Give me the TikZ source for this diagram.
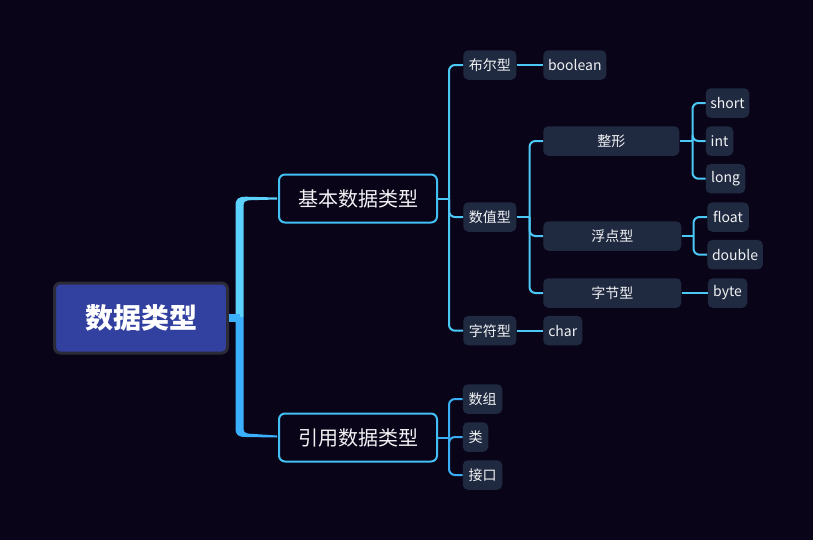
\documentclass[tikz,border=0pt]{standalone}
\usepackage{fontspec}
\setmainfont{Noto Sans CJK SC}
\definecolor{bg}{HTML}{0A0418}
\definecolor{rootfill}{HTML}{3240A0}
\definecolor{rootborder}{HTML}{2C2B38}
\definecolor{mainborder}{HTML}{42C0F4}
\definecolor{subfill}{HTML}{1F2A40}
\definecolor{ca}{HTML}{4CC8F6}
\definecolor{cb}{HTML}{3AAEF4}
\definecolor{trunkA}{HTML}{5CD2FF}
\definecolor{trunkB}{HTML}{3AB0FF}
\definecolor{txt}{HTML}{F2F2F5}
\def\u{0.75pt}
\begin{document}
\begin{tikzpicture}[x=0.75pt,y=-0.75pt,
  rootbox/.style={draw=rootborder,line width=3*\u,fill=rootfill,rounded corners=6*\u,text=white,
    font=\fontsize{21}{21}\selectfont\bfseries,inner sep=0pt,anchor=west,minimum width=173*\u,minimum height=70*\u},
  mainbox/.style={draw=mainborder,line width=2*\u,fill=bg,rounded corners=6*\u,text=txt,
    font=\fontsize{15}{15}\selectfont,inner sep=0pt,anchor=west,minimum width=158*\u,minimum height=48*\u},
  subbox/.style={fill=subfill,rounded corners=5*\u,text=txt,font=\fontsize{10.5}{10.5}\selectfont,
    inner sep=0pt,anchor=west,minimum height=29.5*\u},
  conn/.style={draw=ca,line width=2*\u,rounded corners=6*\u},
  connb/.style={draw=cb,line width=2*\u,rounded corners=6*\u}]
\fill[bg] (0,0) rectangle (813,540);
\useasboundingbox (0,0) rectangle (813,540);

% trunk
\fill[trunkA] (235.5,317) -- (235.5,206) .. controls (235.5,199) and (238,196.7) .. (246,196.7)
  -- (277,197.5) -- (277,199.5) -- (248,200.3) .. controls (245,200.3) and (243.5,202) .. (243.5,207)
  -- (243.5,317) -- cycle;
\fill[trunkB] (235.5,317) -- (235.5,428) .. controls (235.5,435) and (238,437) .. (246,437)
  -- (277,437.5) -- (277,435.5) -- (248,433.6) .. controls (245,433.6) and (243.5,432) .. (243.5,427)
  -- (243.5,317) -- cycle;

% nodes
\node[rootbox] (root) at (53,318) {数据类型};
\fill[trunkB] (root.east) ++(0,-4) rectangle (240,321.5);
\node[mainbox] (m1) at (278,198.5) {基本数据类型};
\node[mainbox] (m2) at (278,437.5) {引用数据类型};

\node[subbox,minimum width=53*\u] (bool) at (463,65) {布尔型};
\node[subbox,minimum width=63*\u] (boolean) at (543,65) {boolean};
\node[subbox,minimum width=53*\u] (num) at (463,217) {数值型};
\node[subbox,minimum width=53*\u] (chr) at (463,330.7) {字符型};
\node[subbox,minimum width=39*\u] (char) at (543,330.7) {char};

\node[subbox,minimum width=136*\u] (zx) at (543,141) {整形};
\node[subbox,minimum width=43.5*\u] (short) at (705.5,103) {short};
\node[subbox,minimum width=27.5*\u] (int) at (705.5,141) {int};
\node[subbox,minimum width=39.5*\u] (long) at (705.5,178.7) {long};

\node[subbox,minimum width=138*\u] (fd) at (543,236) {浮点型};
\node[subbox,minimum width=41.5*\u] (float) at (707,217) {float};
\node[subbox,minimum width=55.5*\u] (double) at (707,254.7) {double};

\node[subbox,minimum width=138*\u] (zj) at (543,293) {字节型};
\node[subbox,minimum width=39.5*\u] (byte) at (707.5,293) {byte};

\node[subbox,minimum width=39.5*\u] (arr) at (462.5,399) {数组};
\node[subbox,minimum width=25.5*\u] (cls) at (462.5,437) {类};
\node[subbox,minimum width=39.5*\u] (iface) at (462.5,475) {接口};

% connectors, basic types
\draw[conn] (m1.east) -- (449,198.5) coordinate (j1);
\draw[conn] (j1) |- (bool.west);
\draw[conn] (j1) |- (num.west);
\draw[conn] (j1) |- (chr.west);
\draw[conn] (bool.east) -- (boolean.west);
\draw[conn] (chr.east) -- (char.west);
\draw[conn] (num.east) -- (529.5,217) coordinate (j2);
\draw[conn] (j2) |- (zx.west);
\draw[conn] (j2) |- (fd.west);
\draw[conn] (j2) |- (zj.west);
\draw[conn] (zx.east) -- (692.5,141) coordinate (j3);
\draw[conn] (j3) |- (short.west);
\draw[conn] (j3) |- (int.west);
\draw[conn] (j3) |- (long.west);
\draw[conn] (fd.east) -- (693.5,236) coordinate (j4);
\draw[conn] (j4) |- (float.west);
\draw[conn] (j4) |- (double.west);
\draw[conn] (zj.east) -- (byte.west);

% connectors, reference types
\draw[connb] (m2.east) -- (449,437.5) coordinate (j5);
\draw[connb] (j5) |- (arr.west);
\draw[connb] (j5) |- (cls.west);
\draw[connb] (j5) |- (iface.west);
\end{tikzpicture}
\end{document}
